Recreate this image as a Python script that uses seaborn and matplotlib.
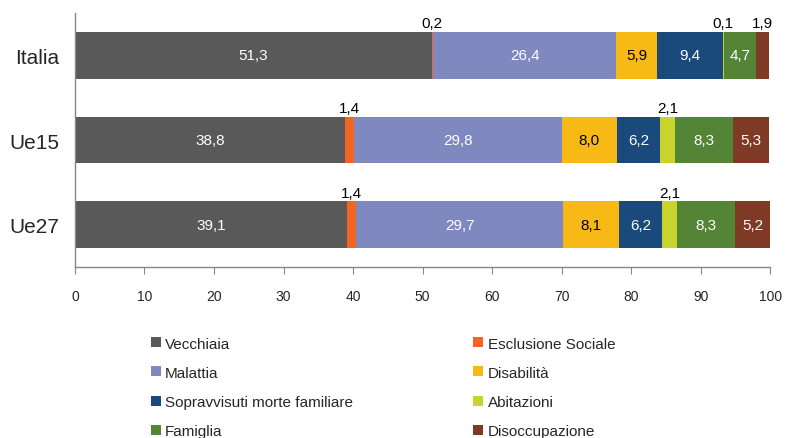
import numpy as np
import pandas as pd
import seaborn as sns
import matplotlib.pyplot as plt
from matplotlib.lines import Line2D

# data
paesi = ["Italia", "Ue15", "Ue27"]
voci = ["Vecchiaia", "Esclusione Sociale", "Malattia", "Disabilità",
        "Sopravvisuti morte familiare", "Abitazioni", "Famiglia", "Disoccupazione"]
vecchiaia = [51.3, 38.8, 39.1]
esclusione = [0.2, 1.4, 1.4]
malattia = [26.4, 29.8, 29.7]
disabilita = [5.9, 8.0, 8.1]
sopravvisuti = [9.4, 6.2, 6.2]
abitazioni = [0.1, 2.1, 2.1]
famiglia = [4.7, 8.3, 8.3]
disoccupazione = [1.9, 5.3, 5.2]

colori = ["#595959", "#F26522", "#8088C0", "#F7B916",
          "#1A4A7C", "#C8D42C", "#548536", "#7F3A26"]
testo_col = ["white", "black", "white", "black", "white", "black", "white", "white"]

valori = np.array([vecchiaia, esclusione, malattia, disabilita,
                   sopravvisuti, abitazioni, famiglia, disoccupazione])
cumul = valori.cumsum(axis=0)

df = pd.DataFrame({"paese": paesi})
for i, v in enumerate(voci):
    df[v] = cumul[i]

sns.set_style("white")
plt.rcParams["font.family"] = ["Liberation Sans", "DejaVu Sans"]

fig = plt.figure(figsize=(7.85, 4.39), dpi=100)
ax = fig.add_axes([0.0955, 0.3895, 0.8855, 0.5785])

# stacked bars: draw cumulative totals from the last to the first
for i in range(len(voci) - 1, -1, -1):
    sns.barplot(data=df, x=voci[i], y="paese", order=paesi, color=colori[i],
                orient="h", width=0.55, linewidth=0, saturation=1, ax=ax)

# value labels
for j in range(len(paesi)):
    for i in range(len(voci)):
        val = valori[i, j]
        mid = cumul[i, j] - val / 2
        txt = f"{val:.1f}".replace(".", ",")
        if val <= 2.1:
            ax.text(mid, j - 0.275 - 0.02, txt, ha="center", va="bottom",
                    fontsize=11, color="black")
        else:
            ax.text(mid, j, txt, ha="center", va="center",
                    fontsize=11, color=testo_col[i])

ax.set_xlim(0, 100)
ax.set_ylim(2.5, -0.5)
ax.set_xticks(range(0, 101, 10))
ax.set_xlabel("")
ax.set_ylabel("")
ax.set_yticks([-0.5, 0.5, 1.5, 2.5], minor=True)
ax.tick_params(axis="y", which="major", length=0, labelsize=15, pad=11)
ax.tick_params(axis="y", which="minor", length=5, color="#868686", direction="out")
ax.tick_params(axis="x", length=5, color="#868686", direction="out",
               labelsize=10, pad=11, bottom=True)
for s in ["top", "right"]:
    ax.spines[s].set_visible(False)
for s in ["left", "bottom"]:
    ax.spines[s].set_color("#868686")
    ax.spines[s].set_linewidth(1)

# legend, row-major order in two columns
ordine = [0, 2, 4, 6, 1, 3, 5, 7]
handles = [Line2D([], [], marker="s", linestyle="none", markersize=6.5,
                  markerfacecolor=colori[k], markeredgewidth=0) for k in ordine]
labels = [voci[k] for k in ordine]
fig.legend(handles, labels, ncol=2, loc="upper left", bbox_to_anchor=(0.185, 0.245),
           frameon=False, fontsize=11, handlelength=0.6, handletextpad=0.3,
           labelspacing=1.0, columnspacing=7.9, borderaxespad=0)

fig.savefig("out.png", dpi=100)
